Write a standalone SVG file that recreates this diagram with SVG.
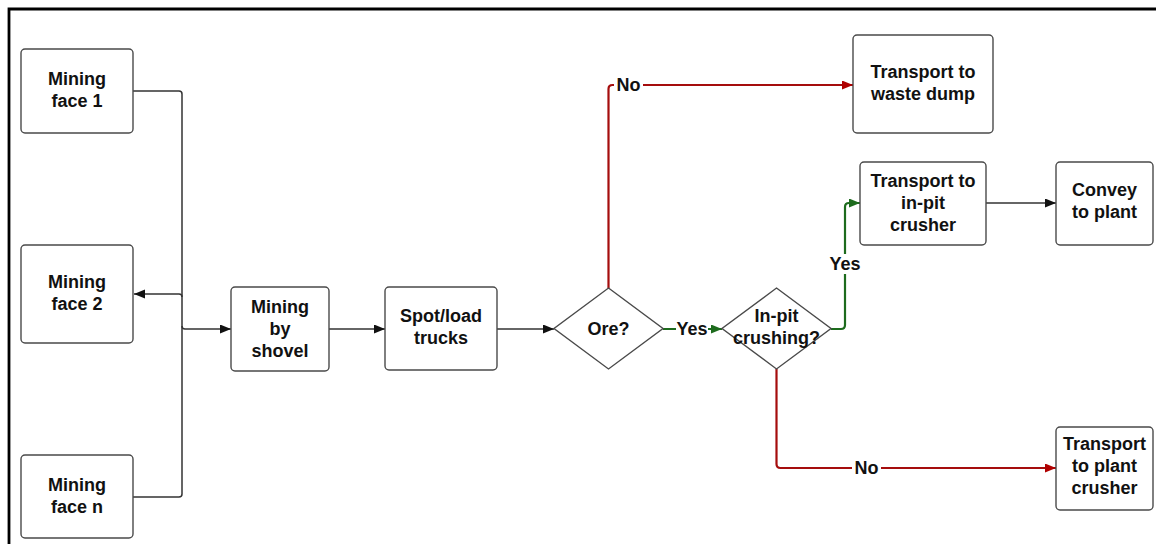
<svg xmlns="http://www.w3.org/2000/svg" width="1156" height="544" viewBox="0 0 1156 544">
<defs>
<style>
.box{fill:#fff;stroke:#4a4a4a;stroke-width:1.4}
.t{font-family:"Liberation Sans",Arial,sans-serif;font-weight:bold;font-size:18px;fill:#111;text-anchor:middle}
.c{fill:none;stroke-width:1.5;stroke-linejoin:round}
.k{stroke:#333}
.r{stroke:#a50d0d;stroke-width:2.2}
.g{stroke:#1d6b1d;stroke-width:2.2}
.lbl{fill:#fff}
</style>
<marker id="ak" markerUnits="userSpaceOnUse" markerWidth="12" markerHeight="10" refX="11" refY="4.5" orient="auto"><path d="M0,0 L11,4.5 L0,9 z" fill="#111"/></marker>
<marker id="ar" markerUnits="userSpaceOnUse" markerWidth="12" markerHeight="10" refX="11" refY="4.5" orient="auto"><path d="M0,0 L11,4.5 L0,9 z" fill="#b00000"/></marker>
<marker id="ag" markerUnits="userSpaceOnUse" markerWidth="12" markerHeight="10" refX="11" refY="4.5" orient="auto"><path d="M0,0 L11,4.5 L0,9 z" fill="#1d6b1d"/></marker>
</defs>
<rect width="1156" height="544" fill="#fff"/>
<path d="M9,544 V9 H1156" fill="none" stroke="#000" stroke-width="2.8"/>

<g id="connectors">
<path class="c k" d="M133,91 H179 Q182,91 182,94 V494 Q182,497 179,497 H133"/>
<path class="c k" d="M182,297 Q182,294 179,294 H134" marker-end="url(#ak)"/>
<path class="c k" d="M182,326 Q182,329 185,329 H231" marker-end="url(#ak)"/>
<path class="c k" d="M329,329 H385" marker-end="url(#ak)"/>
<path class="c k" d="M497,329 H554" marker-end="url(#ak)"/>
<path class="c k" d="M986,203 H1056" marker-end="url(#ak)"/>
<path class="c r" d="M608.5,288 V89 Q608.5,85 612.5,85 H853" marker-end="url(#ar)"/>
<path class="c r" d="M776.5,369 V464 Q776.5,468 780.5,468 H1056" marker-end="url(#ar)"/>
<path class="c g" d="M663,329 H722" marker-end="url(#ag)"/>
<path class="c g" d="M831,329 H841 Q845,329 845,325 V207 Q845,203 849,203 H860" marker-end="url(#ag)"/>
<rect class="lbl" x="614" y="74" width="29" height="20"/>
<text class="t" x="628.5" y="91">No</text>
<rect class="lbl" x="852" y="457" width="29" height="20"/>
<text class="t" x="866.5" y="474">No</text>
<rect class="lbl" x="676" y="319" width="32" height="20"/>
<text class="t" x="692" y="335">Yes</text>
<rect class="lbl" x="829" y="254" width="32" height="20"/>
<text class="t" x="845" y="270">Yes</text>
</g>

<g id="face1"><rect class="box" x="21" y="49" width="112" height="84" rx="4"/><text class="t" x="77" y="85">Mining</text><text class="t" x="77" y="107">face 1</text></g>
<g id="face2"><rect class="box" x="21" y="245" width="112" height="98" rx="4"/><text class="t" x="77" y="288">Mining</text><text class="t" x="77" y="310">face 2</text></g>
<g id="facen"><rect class="box" x="21" y="455" width="112" height="83" rx="4"/><text class="t" x="77" y="491">Mining</text><text class="t" x="77" y="513">face n</text></g>
<g id="shovel"><rect class="box" x="231" y="287" width="98" height="84" rx="4"/><text class="t" x="280" y="313">Mining</text><text class="t" x="280" y="335">by</text><text class="t" x="280" y="357">shovel</text></g>
<g id="spot"><rect class="box" x="385" y="287" width="112" height="83" rx="4"/><text class="t" x="441" y="322">Spot/load</text><text class="t" x="441" y="344">trucks</text></g>
<g id="ore"><path class="box" d="M608.5,288 L663,328.5 L608.5,369 L554,328.5 Z"/><text class="t" x="608.5" y="335">Ore?</text></g>
<g id="inpit"><path class="box" d="M776.5,288 L831,328.5 L776.5,369 L722,328.5 Z"/><text class="t" x="776.5" y="322">In-pit</text><text class="t" x="776.5" y="344">crushing?</text></g>
<g id="waste"><rect class="box" x="853" y="35" width="140" height="98" rx="4"/><text class="t" x="923" y="78">Transport to</text><text class="t" x="923" y="100">waste dump</text></g>
<g id="inpitcrusher"><rect class="box" x="860" y="162" width="126" height="83" rx="4"/><text class="t" x="923" y="187">Transport to</text><text class="t" x="923" y="209">in-pit</text><text class="t" x="923" y="231">crusher</text></g>
<g id="convey"><rect class="box" x="1056" y="162" width="97" height="83" rx="4"/><text class="t" x="1104.5" y="196">Convey</text><text class="t" x="1104.5" y="218">to plant</text></g>
<g id="plantcrusher"><rect class="box" x="1056" y="427" width="97" height="83" rx="4"/><text class="t" x="1104.5" y="450">Transport</text><text class="t" x="1104.5" y="472">to plant</text><text class="t" x="1104.5" y="494">crusher</text></g>
</svg>
